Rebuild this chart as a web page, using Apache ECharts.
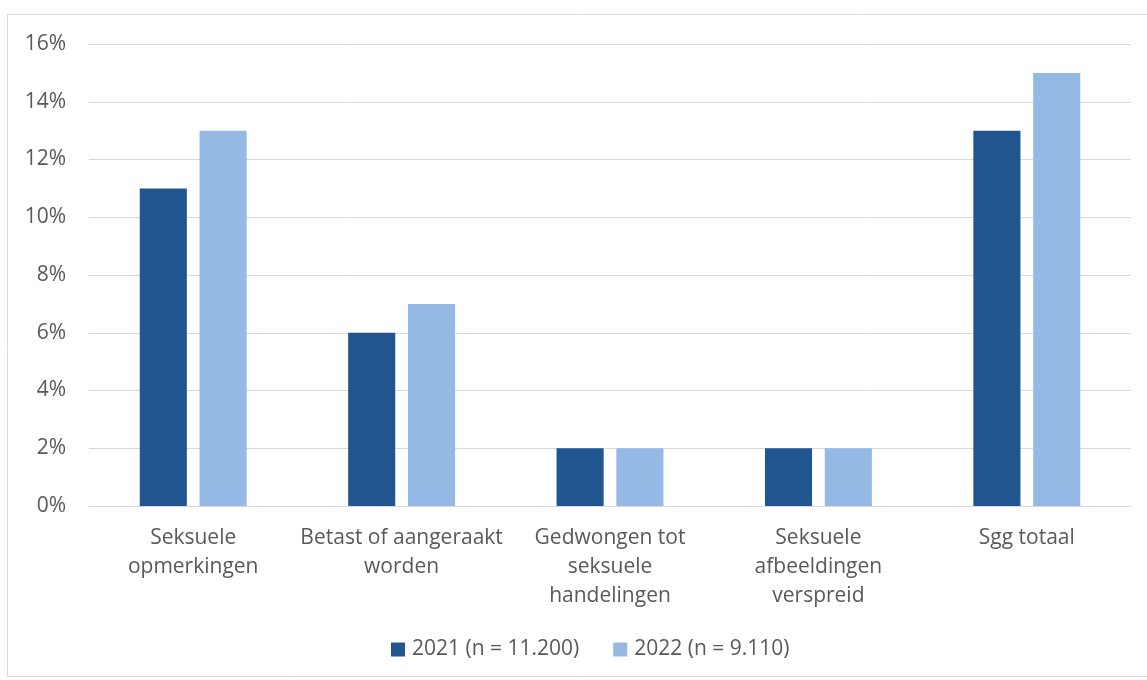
<!DOCTYPE html>
<html>
<head>
<meta charset="utf-8">
<script src="https://cdn.jsdelivr.net/npm/echarts@6/dist/echarts.min.js"></script>
<style>
  html, body { margin: 0; padding: 0; background: #fff; }
  #chart { width: 1147px; height: 680px; }
</style>
</head>
<body>
<div id="chart"></div>
<script>
const categories = [
  "Seksuele\nopmerkingen",
  "Betast of aangeraakt\nworden",
  "Gedwongen tot\nseksuele\nhandelingen",
  "Seksuele\nafbeeldingen\nverspreid",
  "Sgg totaal"
];
const series2021 = [11, 6, 2, 2, 13];
const series2022 = [13, 7, 2, 2, 15];
const seriesNames = ["2021 (n = 11.200)", "2022 (n = 9.110)"];

const textColor = "#595959";
const fontFamily = "'Open Sans', sans-serif";

const myChart = echarts.init(document.getElementById("chart"));
const option = {
  // kader rond de grafiek
  graphic: [{
    type: "rect",
    shape: { x: 7.5, y: 14.5, width: 1145, height: 662 },
    style: { fill: "none", stroke: "#d9d9d9", lineWidth: 1 },
    silent: true
  }],
  grid: {
    left: 89,
    right: 16,
    top: 44,
    bottom: 174
  },
  legend: {
    bottom: 15,
    left: 386,
    itemWidth: 14,
    itemHeight: 14,
    itemGap: 34,
    icon: "rect",
    textStyle: { color: textColor, fontSize: 21, fontFamily: fontFamily, padding: [0, 0, 0, 2] },
    data: seriesNames
  },
  xAxis: {
    type: "category",
    data: categories,
    axisLine: { show: true, lineStyle: { color: "#d9d9d9", width: 1 } },
    axisTick: { show: false },
    axisLabel: {
      color: textColor,
      fontSize: 21,
      fontFamily: fontFamily,
      lineHeight: 29,
      margin: 18,
      interval: 0
    }
  },
  yAxis: {
    type: "value",
    min: 0,
    max: 16,
    interval: 2,
    axisLine: { show: false },
    axisTick: { show: false },
    axisLabel: {
      color: textColor,
      fontSize: 21,
      fontFamily: fontFamily,
      margin: 23,
      formatter: v => v + "%"
    },
    splitLine: { lineStyle: { color: "#d9d9d9", width: 1 } }
  },
  series: [
    {
      name: seriesNames[0],
      type: "bar",
      data: series2021,
      barWidth: "22.6%",
      barGap: "27%",
      itemStyle: { color: "#21558F" }
    },
    {
      name: seriesNames[1],
      type: "bar",
      data: series2022,
      barWidth: "22.6%",
      itemStyle: { color: "#95B9E5" }
    }
  ]
};
myChart.setOption(option);
</script>
</body>
</html>
